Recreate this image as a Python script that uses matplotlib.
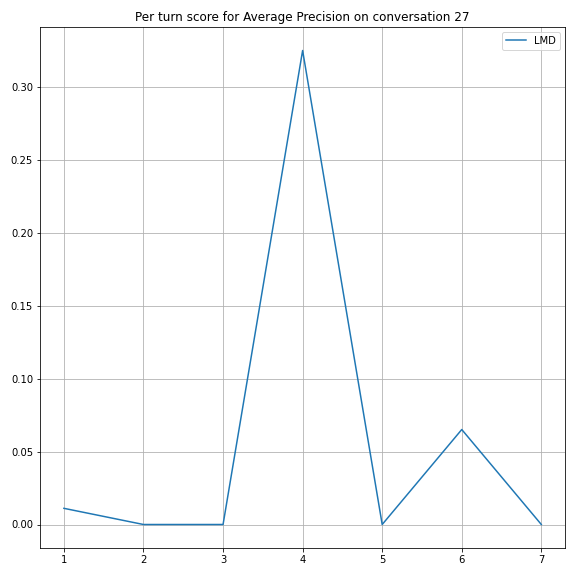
import matplotlib
matplotlib.use("Agg")
import matplotlib.pyplot as plt

turns = [1, 2, 3, 4, 5, 6, 7]
lmd_scores = [0.0111, 0.0, 0.0, 0.3254, 0.0, 0.0652, 0.0]

fig, ax = plt.subplots(figsize=(8, 8), dpi=72)
ax.plot(turns, lmd_scores, label="LMD")
ax.set_title("Per turn score for Average Precision on conversation 27")
ax.grid(True)
ax.legend(loc="upper right")
fig.tight_layout()
fig.savefig("out.png")
